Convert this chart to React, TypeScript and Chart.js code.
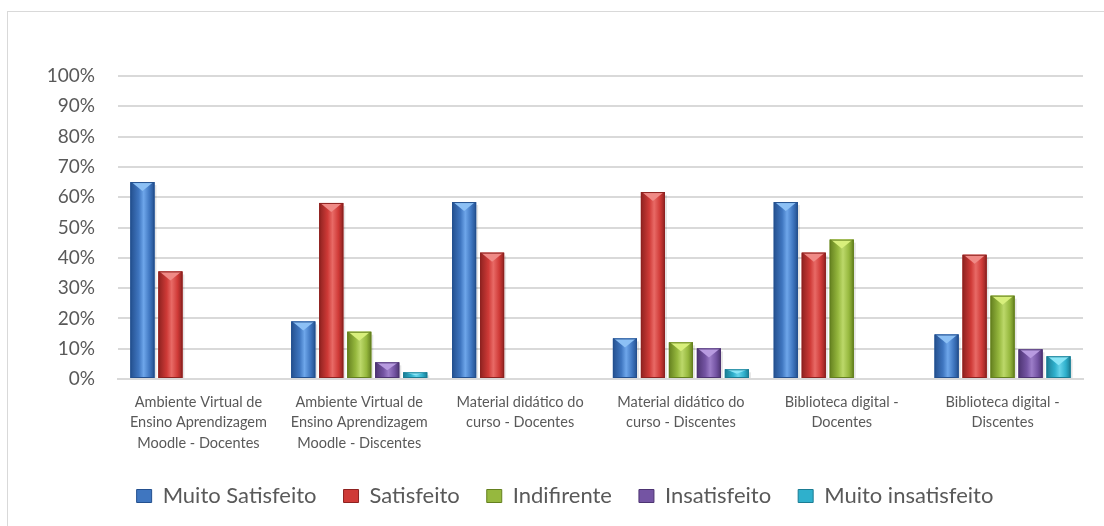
import React, { useEffect, useRef } from "react";
import { Chart, registerables } from "chart.js";

Chart.register(...registerables);

const categories: string[][] = [
  ["Ambiente Virtual de", "Ensino Aprendizagem", "Moodle - Docentes"],
  ["Ambiente Virtual de", "Ensino Aprendizagem", "Moodle - Discentes"],
  ["Material didático do", "curso - Docentes"],
  ["Material didático do", "curso - Discentes"],
  ["Biblioteca digital -", "Docentes"],
  ["Biblioteca digital -", "Discentes"],
];

const seriesNames = ["Muito Satisfeito", "Satisfeito", "Indifirente", "Insatisfeito", "Muito insatisfeito"];

const muitoSatisfeito = [65, 19, 58.4, 13.4, 58.4, 14.7];
const satisfeito = [35.5, 58.1, 41.7, 61.7, 41.7, 41.0];
const indifirente = [null, 15.6, null, 12.1, 46.0, 27.5];
const insatisfeito = [null, 5.5, null, 10.1, null, 9.8];
const muitoInsatisfeito = [null, 2.2, null, 3.2, null, 7.5];

const yTicks = [0, 10, 20, 30, 40, 50, 60, 70, 80, 90, 100];

const palette = [
  { base: "#3f76c0", light: "#6ea6ea", dark: "#24508f", top: "#8cc0f5" },
  { base: "#cf3a37", light: "#e86a66", dark: "#8e2220", top: "#f08a86" },
  { base: "#96b83e", light: "#bcd86a", dark: "#64801f", top: "#d8ef7c" },
  { base: "#7454a3", light: "#9c7dc8", dark: "#4d3472", top: "#b89be0" },
  { base: "#2fb0cc", light: "#66d3ea", dark: "#1b7c93", top: "#8ae6f7" },
];

const bevelPlugin = {
  id: "bevel",
  afterDatasetsDraw(chart: any) {
    const ctx = chart.ctx;
    chart.data.datasets.forEach((ds: any, di: number) => {
      const meta = chart.getDatasetMeta(di);
      const col = palette[di];
      meta.data.forEach((bar: any, i: number) => {
        const v = ds.data[i];
        if (v === null || v === undefined) return;
        const { x, y, base, width } = bar.getProps(["x", "y", "base", "width"], true);
        const l = x - width / 2;
        const r = x + width / 2;
        ctx.save();
        ctx.fillStyle = "rgba(0,0,0,0.10)";
        ctx.fillRect(r, y + 3, 2, base - y - 3);
        const g = ctx.createLinearGradient(l, 0, r, 0);
        g.addColorStop(0, col.dark);
        g.addColorStop(0.35, col.base);
        g.addColorStop(0.55, col.light);
        g.addColorStop(0.8, col.base);
        g.addColorStop(1, col.dark);
        ctx.fillStyle = g;
        ctx.fillRect(l, y, width, base - y);
        const h = Math.min(9, (base - y) / 2);
        ctx.beginPath();
        ctx.moveTo(l + 1, y);
        ctx.lineTo(r - 1, y);
        ctx.lineTo(x, y + h);
        ctx.closePath();
        ctx.fillStyle = col.top;
        ctx.fill();
        ctx.strokeStyle = col.dark;
        ctx.lineWidth = 1;
        ctx.strokeRect(l + 0.5, y + 0.5, width - 1, base - y - 1);
        ctx.restore();
      });
    });
  },
};

export default function App() {
  const ref = useRef<HTMLCanvasElement | null>(null);
  useEffect(() => {
    if (!ref.current) return;
    const all = [muitoSatisfeito, satisfeito, indifirente, insatisfeito, muitoInsatisfeito];
    const chart = new Chart(ref.current, {
      type: "bar",
      data: {
        labels: categories,
        datasets: all.map((d, i) => ({
          label: seriesNames[i],
          data: d,
          backgroundColor: palette[i].base,
          borderWidth: 0,
        })),
      },
      options: {
        animation: false,
        responsive: true,
        maintainAspectRatio: false,
        layout: { padding: { top: 64, right: 25, left: 39, bottom: 25 } },
        datasets: { bar: { categoryPercentage: 0.87, barPercentage: 0.86 } },
        scales: {
          x: {
            afterFit: (s: any) => {
              s.height = 79;
            },
            grid: { display: false },
            border: { display: true, color: "#d9d9d9", width: 2 },
            ticks: {
              color: "#595959",
              font: { family: "Lato", size: 14.5, lineHeight: 1.41 },
              maxRotation: 0,
              autoSkip: false,
              padding: 5,
            },
          },
          y: {
            min: 0,
            max: 100,
            afterFit: (s: any) => {
              s.width = 71;
            },
            afterBuildTicks: (s: any) => {
              s.ticks = yTicks.map((v) => ({ value: v }));
            },
            grid: { color: "#d9d9d9", lineWidth: 2, drawTicks: false },
            border: { display: false },
            ticks: {
              color: "#595959",
              font: { family: "Lato", size: 19 },
              padding: 23,
              callback: (v: any) => v + "%",
            },
          },
        },
        plugins: {
          tooltip: { enabled: false },
          legend: {
            position: "bottom",
            labels: {
              color: "#595959",
              font: { family: "Lato", size: 22 },
              boxWidth: 15,
              boxHeight: 13,
              padding: 27,
              generateLabels: (c: any) =>
                c.data.datasets.map((ds: any, i: number) => ({
                  text: ds.label,
                  fillStyle: palette[i].base,
                  strokeStyle: palette[i].dark,
                  lineWidth: 1,
                  fontColor: "#595959",
                  datasetIndex: i,
                })),
            },
          },
        },
      },
      plugins: [bevelPlugin],
    });
    return () => chart.destroy();
  }, []);
  return (
    <div
      style={{
        position: "absolute",
        left: 7,
        top: 11,
        width: 1100,
        height: 530,
        border: "1px solid #d9d9d9",
        background: "#fff",
      }}
    >
      <canvas ref={ref} />
    </div>
  );
}
